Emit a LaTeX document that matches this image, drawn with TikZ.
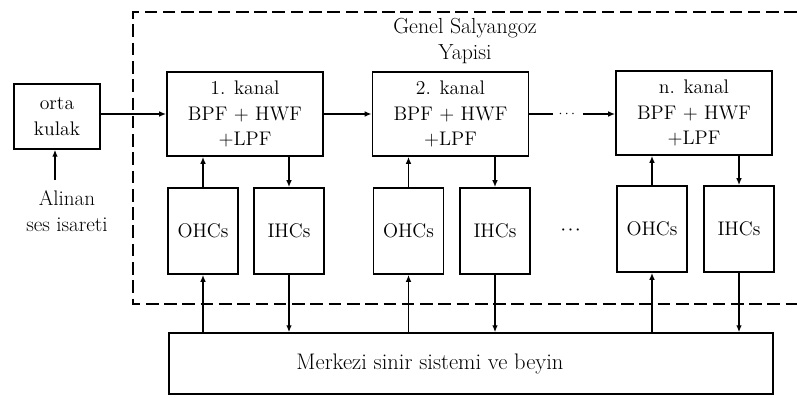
\documentclass[tikz,border=0pt]{standalone}
\usepackage{amsmath}
\usepackage{tikz}
\usetikzlibrary{arrows.meta}

\begin{document}
\begin{tikzpicture}[x=0.025cm,y=-0.025cm,line width=1.1pt,
    box/.style={draw,inner sep=1pt,align=center,font=\fontsize{14}{18}\selectfont},
    kanal/.style={box,minimum width=3.9cm,minimum height=2.1cm},
    cell/.style={box,minimum width=1.75cm,minimum height=2.15cm},
    arr/.style={-{Latex[length=5pt,width=4pt]}}]
  \useasboundingbox (0,0) rectangle (797,397);
  \node (orta) at (57,116.5) [box,minimum width=2.15cm,minimum height=1.62cm] {orta\\kulak};
  \node (k1) at (245,114) [kanal] {1. kanal\\BPF + HWF\\+LPF};
  \node (k2) at (450.5,114) [kanal] {2. kanal\\BPF + HWF\\+LPF};
  \node (kn) at (694,113) [kanal] {n. kanal\\BPF + HWF\\+LPF};
  \node (o1) at (203,231) [cell] {OHCs};
  \node (i1) at (289,231) [cell] {IHCs};
  \node (o2) at (408.5,231) [cell] {OHCs};
  \node (i2) at (495,231) [cell] {IHCs};
  \node (on) at (652,229) [cell] {OHCs};
  \node (in) at (739,229) [cell] {IHCs};
  \node (brain) at (471,363.5) [draw,minimum width=15.1cm,minimum height=1.52cm,font=\fontsize{16}{18}\selectfont] {Merkezi sinir sistemi ve beyin\hspace*{2.05cm}};
  \node (title) at (465,41) [align=center,font=\fontsize{15.5}{18}\selectfont] {Genel Salyangoz\\Yapisi};
  \node (src) at (67,211) [align=center,font=\fontsize{15}{19}\selectfont] {Alinan\\ses isareti};
  \node (hdots) at (568,114) {$\cdots$};
  \node (cdots) at (572,230) {$\boldsymbol{\cdots}$};
  \coordinate (in0) at (55,180);
  \draw[dashed,line width=1.3pt,dash pattern=on 9pt off 4pt] (797,12) -- (133,12) -- (133,304) -- (797,304);
  \draw[arr] (in0) -- (in0 |- orta.south);
  \draw[arr] (orta.east |- k1.west) -- (k1.west);
  \draw[arr] (k1.east) -- (k1.east -| k2.west);
  \draw (k2.east) -- (k2.east -| hdots.west);
  \draw[arr] (k2.east -| hdots.east) -- (k2.east -| kn.west);
  \foreach \k/\o/\i in {k1/o1/i1,k2/o2/i2,kn/on/in} {
    \draw[arr] (\o.north) -- (\o.north |- \k.south);
    \draw[arr] (\i.north |- \k.south) -- (\i.north);
    \draw[arr] (\o.south |- brain.north) -- (\o.south);
    \draw[arr] (\i.south) -- (\i.south |- brain.north);
  }
\end{tikzpicture}
\end{document}
